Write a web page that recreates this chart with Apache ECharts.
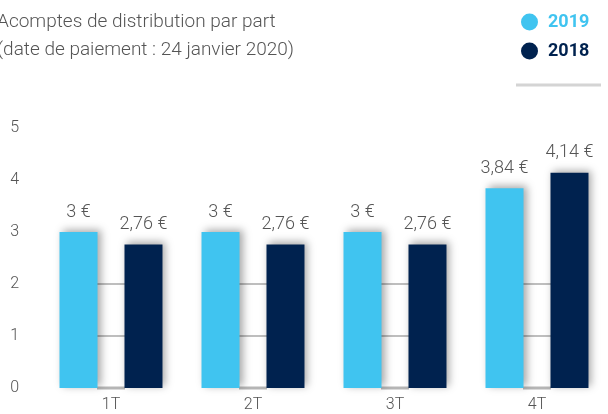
<!DOCTYPE html>
<html>
<head>
<meta charset="utf-8">
<script src="https://cdn.jsdelivr.net/npm/echarts@6/dist/echarts.min.js"></script>
<style>
  html, body { margin: 0; padding: 0; background: #fff; }
  #chart { width: 608px; height: 414px; }
</style>
</head>
<body>
<div id="chart"></div>
<script>
var quarters = ['1T', '2T', '3T', '4T']
var values2019 = [3, 3, 3, 3.84]
var values2018 = [2.76, 2.76, 2.76, 4.14]
var gridValues = [0, 1, 2]
var yTicks = [0, 1, 2, 3, 4, 5]

var light = '#40c4f0'
var dark = '#00224f'
var grey = '#555'
var font = 'Roboto'

function euro(p) {
  return String(p.value).replace('.', ',') + ' €'
}

// little grid segments drawn only in the gap between the two bars
var segData = []
quarters.forEach(function (q, i) {
  gridValues.forEach(function (v) { segData.push([i, v]) })
})

var barStyle = {
  shadowBlur: 8,
  shadowColor: 'rgba(0,0,0,0.35)',
  shadowOffsetX: 3,
  shadowOffsetY: -2
}

var valueLabel = { show: true, position: 'top', distance: 11, color: grey, fontSize: 18, fontWeight: 300, formatter: euro }

var chart = echarts.init(document.getElementById('chart'))
chart.setOption({
  animation: false,
  textStyle: { fontFamily: font },
  title: {
    text: 'Acomptes de distribution par part\n(date de paiement : 24 janvier 2020)',
    left: -8,
    top: 3,
    textStyle: { color: grey, fontSize: 19, fontWeight: 300, lineHeight: 28, fontFamily: font }
  },
  legend: {
    orient: 'vertical',
    left: 516,
    top: 8,
    itemGap: 11,
    itemWidth: 17,
    itemHeight: 17,
    icon: 'circle',
    data: [
      { name: '2019', textStyle: { color: light } },
      { name: '2018', textStyle: { color: dark } }
    ],
    textStyle: { fontSize: 18, fontWeight: 'bold', fontFamily: font, padding: [0, 0, 0, 5] }
  },
  graphic: [{
    type: 'line',
    shape: { x1: 516, y1: 85, x2: 601, y2: 85 },
    style: { stroke: '#d4d4d4', lineWidth: 3 }
  }],
  grid: { left: 40, right: -6, top: 128, bottom: 26 },
  xAxis: {
    type: 'category',
    data: quarters,
    axisLine: { show: false },
    axisTick: { show: false },
    axisLabel: { color: grey, fontSize: 16, margin: 9, fontWeight: 300 }
  },
  yAxis: {
    type: 'value',
    min: yTicks[0],
    max: yTicks[yTicks.length - 1],
    interval: 1,
    splitLine: { show: false },
    axisLabel: { color: grey, fontSize: 16, margin: 21, fontWeight: 300, padding: [0, 0, 12, 0] }
  },
  series: [
    {
      name: '2019',
      type: 'bar',
      data: values2019,
      barWidth: 38,
      barGap: '71%',
      z: 3,
      itemStyle: Object.assign({ color: light }, barStyle),
      label: valueLabel
    },
    {
      name: '2018',
      type: 'bar',
      data: values2018,
      barWidth: 38,
      barGap: '71%',
      z: 3,
      itemStyle: Object.assign({ color: dark }, barStyle),
      label: valueLabel
    },
    {
      type: 'custom',
      z: 1,
      silent: true,
      data: segData,
      renderItem: function (params, api) {
        var p = api.coord([api.value(0), api.value(1)])
        var isBase = api.value(1) === 0
        return {
          type: 'line',
          shape: { x1: p[0] - 14, y1: p[1], x2: p[0] + 14, y2: p[1] },
          style: { stroke: isBase ? '#b5b5b5' : '#a8a8a8', lineWidth: isBase ? 3 : 1.5 }
        }
      }
    }
  ]
})
</script>
</body>
</html>
